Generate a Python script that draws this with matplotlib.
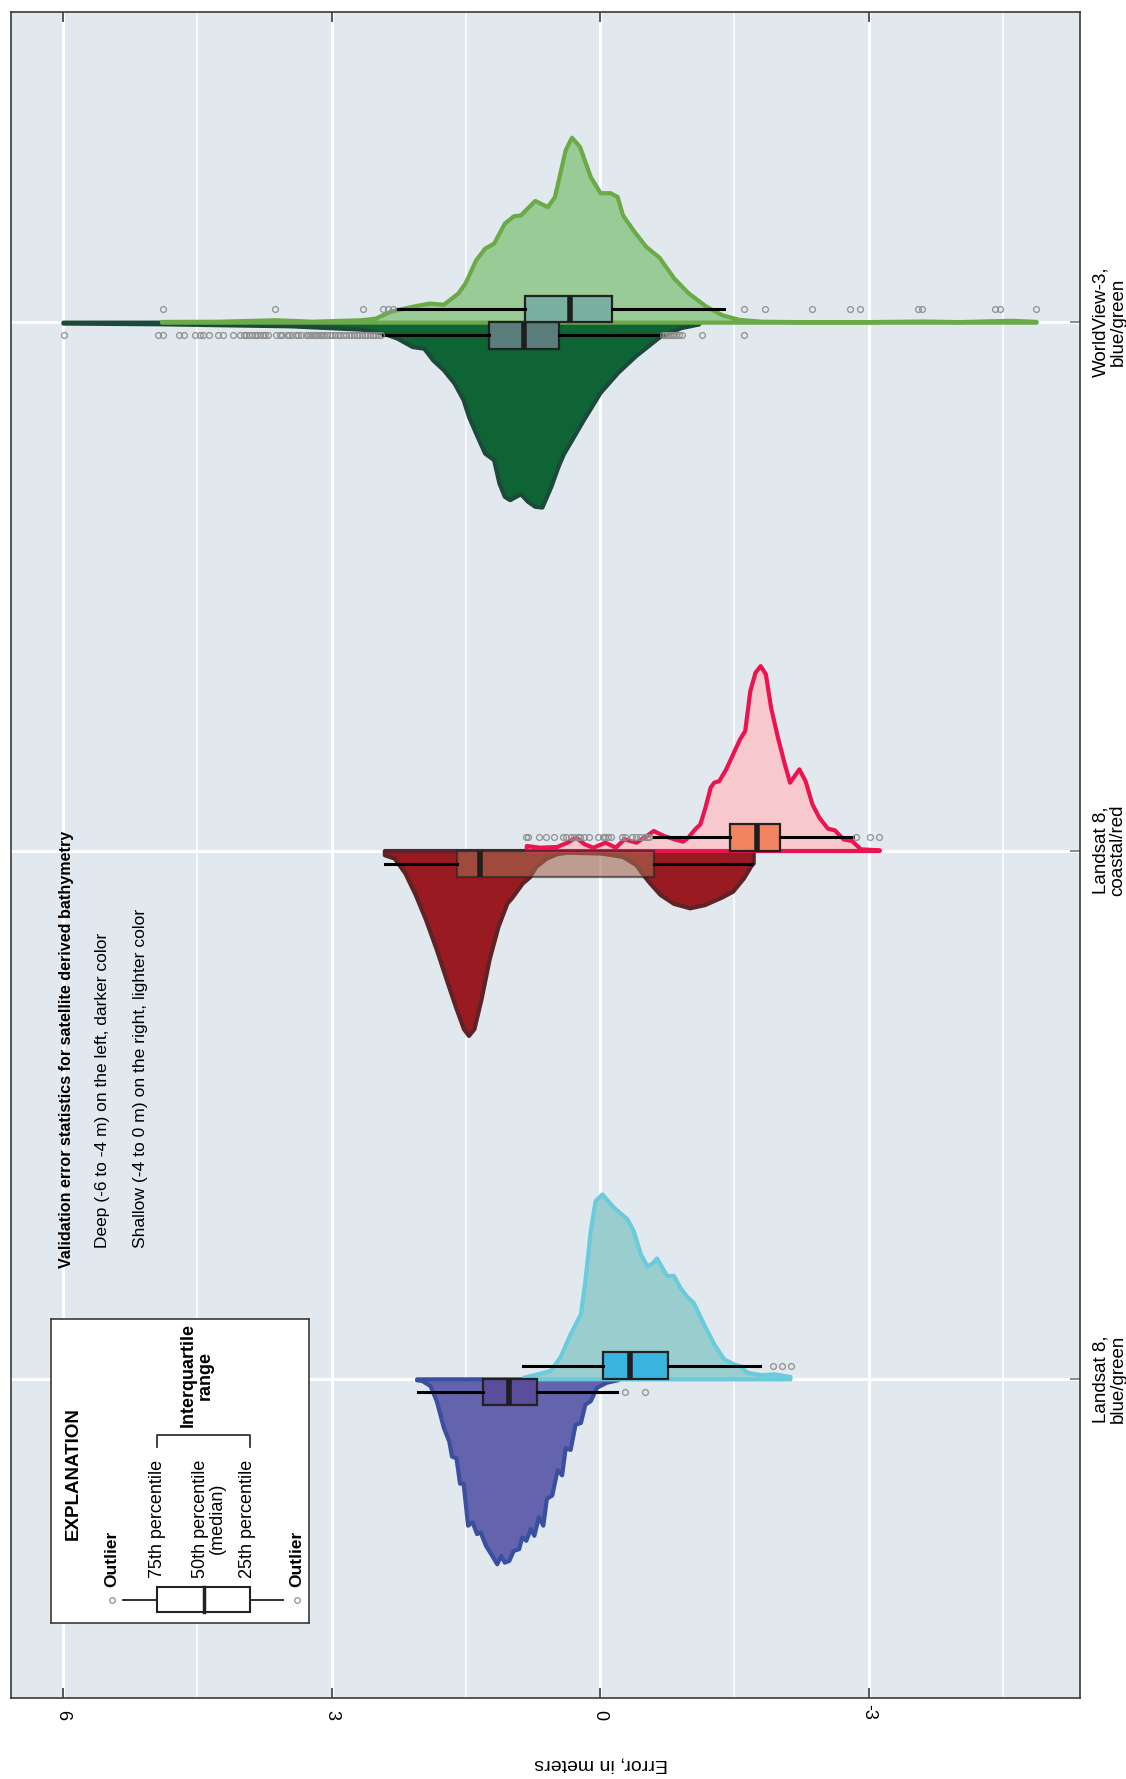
import numpy as np
import matplotlib
matplotlib.use("Agg")
import matplotlib.pyplot as plt

W, H = 1126, 1779
plt.rcParams['font.family'] = ['Liberation Sans', 'DejaVu Sans']

# ---------------- data ----------------
categories = ["Landsat 8,\nblue/green", "Landsat 8,\ncoastal/red", "WorldView-3,\nblue/green"]
xticks = [6, 3, 0, -3]
xticklabels = ["6", "3", "0", "-3"]

# density profiles (error value, relative density)
lbg_deep_x = [2.05, 1.99, 1.90, 1.83, 1.75, 1.69, 1.66, 1.61, 1.57, 1.53, 1.48, 1.43, 1.38, 1.34, 1.28, 1.21, 1.155,
              1.11, 1.07, 1.02, 0.97, 0.91, 0.875, 0.83, 0.78, 0.74, 0.69, 0.64, 0.60, 0.54, 0.48, 0.43, 0.39, 0.335,
              0.28, 0.22, 0.17, 0.11, 0.04, -0.07, -0.20]
lbg_deep_d = [0.005, 0.009, 0.036, 0.117, 0.261, 0.333, 0.414, 0.423, 0.559, 0.559, 0.784, 0.766, 0.829, 0.82, 0.892,
              0.946, 0.991, 0.946, 0.982, 0.973, 0.919, 0.910, 0.847, 0.865, 0.802, 0.838, 0.739, 0.784, 0.640, 0.622,
              0.486, 0.514, 0.369, 0.378, 0.243, 0.234, 0.135, 0.117, 0.045, 0.018, 0.004]

lbg_shal_x = [0.857, 0.67, 0.56, 0.45, 0.335, 0.22, 0.17, 0.11, 0.056, -0.02, -0.15, -0.30, -0.37, -0.45, -0.52, -0.58,
              -0.63, -0.71, -0.745, -0.82, -0.89, -0.97, -1.04, -1.155, -1.27, -1.38, -1.49, -1.56, -1.64, -1.79,
              -1.94, -2.12]
lbg_shal_d = [0.009, 0.031, 0.045, 0.117, 0.243, 0.351, 0.532, 0.802, 0.964, 1.0, 0.928, 0.865, 0.802, 0.676, 0.613,
              0.625, 0.654, 0.586, 0.559, 0.559, 0.495, 0.445, 0.414, 0.297, 0.189, 0.108, 0.081, 0.072, 0.036, 0.023,
              0.027, 0.013]

lcr_deep_x = [2.41, 2.30, 2.18, 2.065, 1.95, 1.83, 1.72, 1.62, 1.526, 1.47, 1.41, 1.33, 1.24, 1.14, 1.04, 0.99, 0.87,
              0.79, 0.72, 0.60, 0.49, 0.37, -0.015, -0.25, -0.40, -0.48, -0.555, -0.67, -0.82, -1.0, -1.17, -1.36,
              -1.48, -1.60, -1.69, -1.71]
lcr_deep_d = [0.023, 0.041, 0.122, 0.238, 0.373, 0.534, 0.695, 0.839, 0.964, 1.0, 0.964, 0.803, 0.588, 0.409, 0.283,
              0.256, 0.176, 0.143, 0.086, 0.041, 0.018, 0.009, 0.014, 0.032, 0.077, 0.131, 0.176, 0.238, 0.286, 0.310,
              0.292, 0.251, 0.220, 0.149, 0.077, 0.068]

lcr_shal_x = [0.825, 0.678, 0.486, 0.370, 0.274, 0.177, 0.081, -0.054, -0.170, -0.266, -0.401, -0.516, -0.593, -0.709,
              -0.825, -0.921, -0.979, -1.056, -1.114, -1.171, -1.229, -1.268, -1.326, -1.403, -1.480, -1.557, -1.615,
              -1.672, -1.730, -1.788, -1.846, -1.904, -1.981, -2.058, -2.116, -2.220, -2.289, -2.366, -2.443, -2.539,
              -2.617, -2.713, -2.809, -2.906, -3.118]
lcr_shal_zy = [615, 620, 618, 605, 590, 610, 620, 605, 620, 595, 605, 585, 570, 585, 595, 602, 590, 565, 550, 500, 440,
               425, 420, 385, 340, 295, 270, 150, 95, 75, 100, 200, 290, 370, 425, 385, 420, 490, 530, 563, 568, 595,
               600, 625, 628]
lcr_shal_d = [(630 - z) / 555 for z in lcr_shal_zy]

wv_deep_x = [6.0, 4.9, 3.46, 2.67, 2.43, 2.27, 2.10, 1.97, 1.87, 1.75, 1.63, 1.53, 1.47, 1.39, 1.29, 1.19, 1.13, 1.07,
             1.01, 0.89, 0.81, 0.73, 0.65, 0.55, 0.47, 0.41, 0.31, 0.19, 0.0, -0.2, -0.4, -0.66, -0.9, -1.1]
wv_deep_d = [0.005, 0.009, 0.02, 0.038, 0.059, 0.086, 0.132, 0.141, 0.204, 0.258, 0.33, 0.42, 0.51, 0.60, 0.708, 0.744,
             0.87, 0.942, 0.96, 0.928, 0.969, 0.996, 1.0, 0.888, 0.78, 0.712, 0.63, 0.53, 0.38, 0.27, 0.18, 0.08,
             0.03, 0.01]

wv_shal_x = [4.90, 4.26, 3.62, 3.22, 2.67, 2.51, 2.35, 2.11, 1.91, 1.75, 1.59, 1.51, 1.39, 1.29, 1.19, 1.07, 0.97, 0.89,
             0.73, 0.59, 0.51, 0.39, 0.32, 0.23, 0.11, 0.0, -0.11, -0.19, -0.25, -0.38, -0.51, -0.66, -0.82, -0.98,
             -1.17, -1.36, -1.55, -1.8, -2.2, -3.0, -3.6, -4.0, -4.6, -4.87]
wv_shal_d = [0.004, 0.005, 0.013, 0.005, 0.013, 0.022, 0.058, 0.085, 0.103, 0.097, 0.157, 0.211, 0.337, 0.40, 0.427,
             0.535, 0.575, 0.580, 0.658, 0.625, 0.679, 0.932, 1.0, 0.95, 0.787, 0.70, 0.70, 0.68, 0.58, 0.49, 0.41,
             0.35, 0.24, 0.16, 0.09, 0.04, 0.015, 0.005, 0.003, 0.003, 0.006, 0.003, 0.01, 0.004]

# box statistics: q1, median, q3, lower whisker, upper whisker, outliers
lbg_deep_box = dict(q1=0.70, med=1.02, q3=1.31, whislo=-0.19, whishi=2.03, fliers=[-0.28, -0.50])
lbg_shal_box = dict(q1=-0.76, med=-0.335, q3=-0.037, whislo=-1.79, whishi=0.857, fliers=[-1.93, -2.03, -2.13])
lcr_deep_box = dict(q1=-0.60, med=1.34, q3=1.60, whislo=-1.70, whishi=2.40, fliers=[])
lcr_shal_box = dict(q1=-2.01, med=-1.757, q3=-1.45, whislo=-2.83, whishi=-0.586,
                    fliers=[0.825, 0.80, 0.68, 0.61, 0.52, 0.41, 0.38, 0.33, 0.29, 0.25, 0.22, 0.18, 0.12, 0.02,
                            -0.035, -0.06, -0.09, -0.12, -0.25, -0.28, -0.36, -0.40, -0.45, -0.49, -0.52, -0.55,
                            -2.86, -3.02, -3.12])
wv_deep_box = dict(q1=0.46, med=0.85, q3=1.24, whislo=-0.68, whishi=2.43,
                   fliers=[5.99, 4.94, 4.88, 4.70, 4.65, 4.53, 4.47, 4.43, 4.37, 4.27, 4.21, 4.10, 4.02, 3.98, 3.95,
                           3.92, 3.89, 3.86, 3.83, 3.80, 3.77, 3.74, 3.71, 3.62, 3.58, 3.55, 3.50, 3.47, 3.44, 3.40,
                           3.37, 3.34, 3.29, 3.26, 3.24, 3.21, 3.19, 3.16, 3.13, 3.11, 3.08, 3.05, 3.02, 2.99, 2.96,
                           2.93, 2.90, 2.87, 2.84, 2.81, 2.78, 2.75, 2.72, 2.69, 2.66, 2.63, 2.60, 2.57, 2.54, 2.51,
                           2.48, 2.45, -0.70, -0.72, -0.74, -0.76, -0.78, -0.80, -0.82, -0.85, -0.88, -0.91, -1.14,
                           -1.61])
wv_shal_box = dict(q1=-0.13, med=0.34, q3=0.84, whislo=-1.38, whishi=2.27,
                   fliers=[4.88, 3.63, 2.65, 2.43, 2.37, 2.31, -1.61, -1.84, -2.37, -2.79, -2.90, -3.55, -3.59,
                           -4.41, -4.47, -4.87])

# styles
BG = '#E1E9EF'
HALF = 0.35
BOX_H = 0.05
groups = [
    # (category, x, d, box, fill, edge, boxcolor, boxalpha, side)
    (0, lbg_deep_x, lbg_deep_d, lbg_deep_box, '#6464AE', '#3B4FA0', '#5A4E9C', 1.0, -1),
    (0, lbg_shal_x, lbg_shal_d, lbg_shal_box, '#9ACECE', '#6ACBDC', '#3AB5E0', 1.0, 1),
    (1, lcr_deep_x, lcr_deep_d, lcr_deep_box, '#991A20', '#5E2227', '#A66A52', 0.6, -1),
    (1, lcr_shal_x, lcr_shal_d, lcr_shal_box, '#F8C9CC', '#EC1450', '#F38462', 1.0, 1),
    (2, wv_deep_x, wv_deep_d, wv_deep_box, '#0E6434', '#1B4A3A', '#5A7E7B', 1.0, -1),
    (2, wv_shal_x, wv_shal_d, wv_shal_box, '#98CB96', '#6AAA47', '#7AB0A0', 1.0, 1),
]

fig = plt.figure(figsize=(W / 100, H / 100), dpi=100)
ax_l, ax_r, ax_t, ax_b = 11, 1080, 12, 1698
ax = fig.add_axes([ax_l / W, 1 - ax_b / H, (ax_r - ax_l) / W, (ax_b - ax_t) / H])
ax.set_facecolor(BG)
ax.set_xlim(6.58, -5.36)
ax.set_ylim(-0.604, 2.587)

# grid
for v in [6, 3, 0, -3]:
    ax.axvline(v, color='white', lw=2.2, zorder=0.5)
for v in [4.5, 1.5, -1.5, -4.5]:
    ax.axvline(v, color='white', lw=1.3, alpha=0.85, zorder=0.5)
for c in range(3):
    ax.axhline(c, color='white', lw=2.2, zorder=0.5)

for (c, xs, ds, box, fc, ec, bc, ba, side) in groups:
    xs = np.array(xs)
    ds = np.array(ds) / max(ds)
    ax.fill_between(xs, c, c + side * HALF * ds, facecolor=fc, edgecolor=ec, linewidth=3,
                    joinstyle='round', zorder=2)

for (c, xs, ds, box, fc, ec, bc, ba, side) in groups:
    pos = c + side * BOX_H / 2
    ax.bxp([box], positions=[pos], widths=BOX_H, vert=False, patch_artist=True, showcaps=False,
           manage_ticks=False,
           boxprops=dict(facecolor=bc, edgecolor='#222222', linewidth=1.6, alpha=ba if ba < 1 else None),
           medianprops=dict(color='#1E1E1E', linewidth=4, solid_capstyle='butt'),
           whiskerprops=dict(color='black', linewidth=2.2),
           flierprops=dict(marker='o', markerfacecolor='none', markeredgecolor='#8E8E8E',
                           markersize=4.2, markeredgewidth=1.0, alpha=0.9),
           zorder=3)

# axes styling
for s in ax.spines.values():
    s.set_color('#3A3A3A')
    s.set_linewidth(1.2)
ax.set_xticks(xticks)
ax.set_xticklabels(xticklabels, rotation=-90, ha='right', va='center', rotation_mode='anchor', fontsize=13)
ax.tick_params(axis='x', which='major', top=True, bottom=True, direction='in', length=7, width=1.2,
               color='#3A3A3A', pad=16)
ax.set_yticks(range(3))
ax.set_yticklabels(categories, rotation=90, ha='left', va='center', multialignment='center', fontsize=13.5,
                   linespacing=1.0)
ax.tick_params(axis='y', left=False, right=True, labelleft=False, labelright=True, direction='in', length=7,
               width=1.2, color='#777777', pad=9)
ax.set_xlabel("Error, in meters", rotation=180, fontsize=14, va='center', ha='center')
ax.xaxis.set_label_coords((601 - ax_l) / (ax_r - ax_l), -(1764 - ax_b) / (ax_b - ax_t))


def ftext(X, Y, s, **kw):
    fig.text(X / W, 1 - Y / H, s, rotation=90, rotation_mode='anchor', ha='left', va='center', **kw)


ftext(67, 1268, "Validation error statistics for satellite derived bathymetry", fontsize=11.6, fontweight='bold')
ftext(103, 1248, "Deep (-6 to -4 m) on the left, darker color", fontsize=12.5)
ftext(140, 1248, "Shallow (-4 to 0 m) on the right, lighter color", fontsize=12.6)

# explanation box
ex_l, ex_t, ex_r, ex_b = 51, 1319, 309, 1623
axe = fig.add_axes([ex_l / W, 1 - ex_b / H, (ex_r - ex_l) / W, (ex_b - ex_t) / H], zorder=5)
axe.set_xlim(0, ex_r - ex_l)
axe.set_ylim(ex_b - ex_t, 0)
axe.set_xticks([])
axe.set_yticks([])
axe.set_facecolor('white')
for s in axe.spines.values():
    s.set_color('#3A3A3A')
    s.set_linewidth(1.2)


def etext(x, y, s, **kw):
    axe.text(x, y, s, rotation=90, rotation_mode='anchor', ha='left', va='center', **kw)


etext(22, 221, "EXPLANATION", fontsize=13.5, fontweight='bold')
etext(61, 268, "Outlier", fontsize=12.5, fontweight='bold')
etext(246, 268, "Outlier", fontsize=12.5, fontweight='bold')
etext(107, 259, "75th percentile", fontsize=13)
etext(158, 259, "50th percentile\n(median)", fontsize=13, multialignment='center', linespacing=1.0)
etext(196, 259, "25th percentile", fontsize=13)
etext(146, 108, "Interquartile\nrange", fontsize=13, fontweight='bold', multialignment='center', linespacing=1.0)
axe.plot([106, 106, 199, 199], [128, 116, 116, 128], color='#333333', lw=1.3)
axe.add_patch(plt.Rectangle((106, 268), 93, 25, facecolor='white', edgecolor='#222222', lw=1.5))
axe.plot([153, 153], [268, 293], color='#222222', lw=2.5)
axe.plot([72, 106], [280.5, 280.5], color='#222222', lw=1.3)
axe.plot([199, 232], [280.5, 280.5], color='#222222', lw=1.3)
axe.plot([61, 246], [280.5, 280.5], ls='none', marker='o', mfc='none', mec='#999999', ms=4, mew=1)

fig.savefig("out.png", dpi=100, facecolor='white')
